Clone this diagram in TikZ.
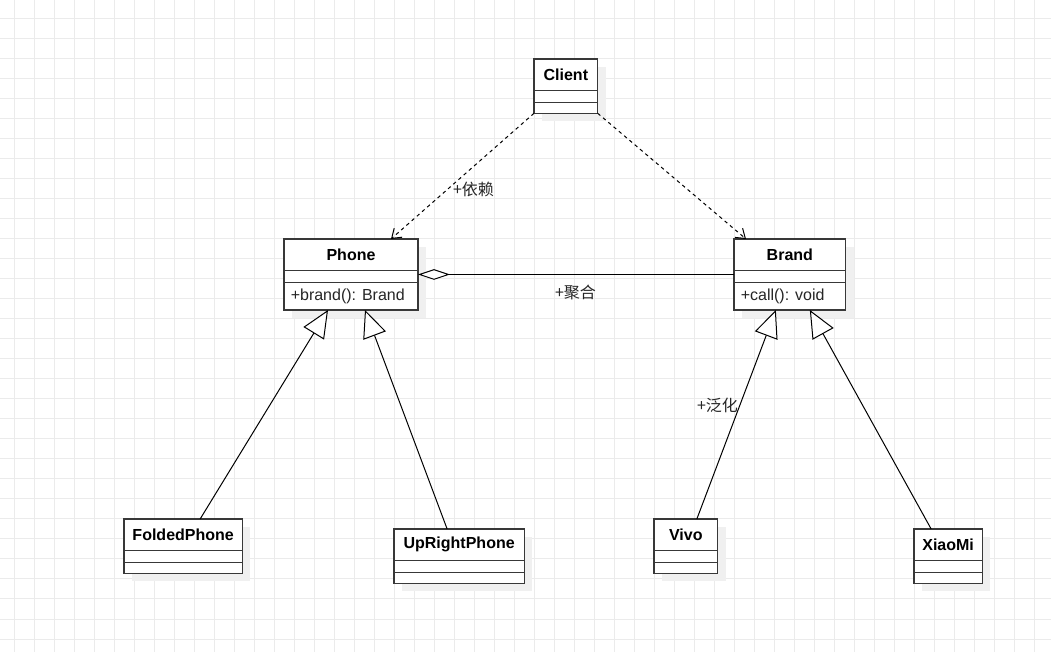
\documentclass[tikz,border=0pt]{standalone}
\usepackage{fontspec}
\setmainfont{Liberation Sans}
\newfontfamily\cjk{Noto Sans CJK SC}
\usetikzlibrary{arrows.meta,calc}
\definecolor{gridc}{HTML}{EBEBEB}
\definecolor{shadowc}{HTML}{F0F0F0}
\definecolor{boxc}{HTML}{383838}
\newcommand\umlclass[6]{% name, x, y, w, h, title
  \fill[shadowc] (#2+8,#3+8) rectangle ++(#4,#5);
  \node[classbox, minimum width=#4*0.75pt, minimum height=#5*0.75pt] (#1) at (#2,#3) {};
  \draw[boxline] ($(#1.north west)+(0,31.7)$) -- ($(#1.north east)+(0,31.7)$);
  \draw[boxline] ($(#1.north west)+(0,43.3)$) -- ($(#1.north east)+(0,43.3)$);
  \node[titletext] (#1-title) at ($(#1.north)+(0,15.8)$) {#6};
}
\begin{document}
\begin{tikzpicture}[x=0.75pt,y=-0.75pt,
  boxline/.style={draw=boxc, line width=1pt},
  classbox/.style={boxline, fill=white, anchor=north west, inner sep=0pt, outer sep=0pt},
  titletext/.style={font=\fontsize{12}{14}\selectfont\bfseries, inner sep=0pt},
  methtext/.style={font=\fontsize{12}{14}\selectfont, inner sep=0pt, anchor=west, text=black!85},
  lbl/.style={font=\cjk\fontsize{12}{14}\selectfont, inner sep=1pt, text=black!85},
  edge/.style={draw=black, line width=0.75pt},
  dep/.style={edge, dash pattern=on 2.6pt off 2.6pt, -{Straight Barb[length=6.5pt,width=9pt,line width=0.75pt]}},
  gen/.style={edge, -{Triangle[open, fill=white, length=20.5pt, width=18pt, line width=0.75pt]}},
  agg/.style={edge, {Diamond[open, fill=white, length=24pt, width=8pt, line width=0.75pt]}-}
]
\useasboundingbox (0,0) rectangle (1051,652);
\fill[white] (0,0) rectangle (1051,652);
\foreach \gx in {14,34,...,1050} \draw[gridc, line width=0.75pt] (\gx,0) -- (\gx,652);
\foreach \gy in {19,39,...,650} \draw[gridc, line width=0.75pt] (0,\gy) -- (1051,\gy);

\umlclass{client}{534}{59}{63.7}{54.3}{Client}
\umlclass{phone}{284}{239}{134}{71}{Phone}
\umlclass{brand}{734}{239}{111.7}{71}{Brand}
\umlclass{folded}{124}{519}{118.3}{54.3}{FoldedPhone}
\umlclass{upright}{394}{529}{130.3}{54.3}{UpRightPhone}
\umlclass{vivo}{654}{519}{63.7}{54.3}{Vivo}
\umlclass{xiaomi}{914}{529}{68.3}{54.3}{XiaoMi}

\node[methtext] (phone-meth) at ($(phone.north west)+(6.5,57.2)$) {+brand(): Brand};
\node[methtext] (brand-meth) at ($(brand.north west)+(6.5,57.2)$) {+call(): void};

\draw[dep] (client.south west) -- ($(phone.north)+(40,0)$);
\draw[dep] (client.south east) -- ($(brand.north west)+(12,0)$);
\node[lbl] (l-dep) at (473.5,189) {+依赖};

\draw[agg] (phone.east) -- (brand.west);
\node[lbl] (l-agg) at (575.5,292) {+聚合};

\draw[gen] ($(folded.north)+(17,0)$) -- ($(phone.south)+(-23,0)$);
\draw[gen] ($(upright.north)+(-12,0)$) -- ($(phone.south)+(14,0)$);
\draw[gen] ($(vivo.north)+(11,0)$) -- ($(brand.south)+(-14,0)$);
\draw[gen] ($(xiaomi.north)+(-17,0)$) -- ($(brand.south)+(20,0)$);
\node[lbl] (l-gen) at (717.5,405) {+泛化};
\end{tikzpicture}
\end{document}
